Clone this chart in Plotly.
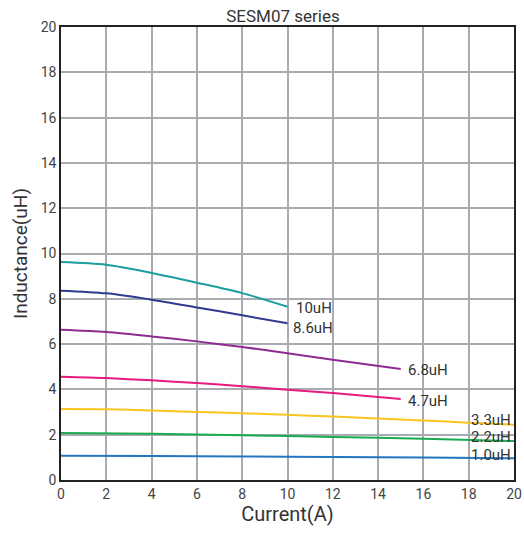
import plotly.graph_objects as go

x_10 = [0, 2, 4, 6, 8, 10]
y_10 = [9.62, 9.5, 9.14, 8.71, 8.25, 7.65]
x_86 = [0, 2, 4, 6, 8, 10]
y_86 = [8.36, 8.24, 7.96, 7.62, 7.27, 6.92]
x_68 = [0, 2, 4, 6, 8, 10, 12, 15]
y_68 = [6.63, 6.53, 6.34, 6.12, 5.87, 5.6, 5.31, 4.9]
x_47 = [0, 2, 4, 6, 8, 10, 12, 15]
y_47 = [4.56, 4.5, 4.4, 4.28, 4.14, 3.99, 3.84, 3.58]
x_33 = [0, 2, 4, 6, 8, 10, 12, 14, 16, 18, 20]
y_33 = [3.13, 3.12, 3.07, 3.0, 2.95, 2.88, 2.8, 2.72, 2.63, 2.53, 2.44]
x_22 = [0, 4, 8, 12, 16, 20]
y_22 = [2.07, 2.04, 1.98, 1.9, 1.82, 1.72]
x_10u = [0, 4, 8, 12, 16, 20]
y_10u = [1.07, 1.06, 1.04, 1.02, 0.99, 0.96]

series = [
    ("10uH", x_10, y_10, "#1b9e9f"),
    ("8.6uH", x_86, y_86, "#2f3b8d"),
    ("6.8uH", x_68, y_68, "#8e2b92"),
    ("4.7uH", x_47, y_47, "#e8197f"),
    ("3.3uH", x_33, y_33, "#f9c420"),
    ("2.2uH", x_22, y_22, "#1aab4f"),
    ("1.0uH", x_10u, y_10u, "#2476c0"),
]

labels = ["10uH", "8.6uH", "6.8uH", "4.7uH", "3.3uH", "2.2uH", "1.0uH"]
label_x = [10.3, 10.15, 15.23, 15.23, 19.95, 19.95, 19.95]
label_y = [7.6, 6.71, 4.86, 3.49, 2.65, 1.9, 1.1]
label_anchor = ["left", "left", "left", "left", "right", "right", "right"]

FONT = "Roboto, sans-serif"

fig = go.Figure()
for name, xs, ys, c in series:
    fig.add_trace(go.Scatter(x=xs, y=ys, mode="lines", name=name,
                             line=dict(color=c, width=2, shape="spline", smoothing=0.8),
                             showlegend=False))

for t, lx, ly, a in zip(labels, label_x, label_y, label_anchor):
    fig.add_annotation(x=lx, y=ly, text=t, showarrow=False, xanchor=a, yanchor="middle",
                       font=dict(family=FONT, size=15, color="#333333"))

fig.update_layout(
    width=524, height=534,
    margin=dict(l=61, r=10, t=27, b=54),
    paper_bgcolor="white", plot_bgcolor="white",
    font=dict(family=FONT, color="#333333"),
    title=dict(text="SESM07 series", x=0.54, xanchor="center", y=0.97, yanchor="middle",
               font=dict(family=FONT, size=17, color="#333333")),
)
fig.update_xaxes(range=[0, 20], dtick=2, showgrid=True, gridcolor="#a8acb1", gridwidth=1.5,
                 showline=True, linecolor="#222222", linewidth=1.5, mirror=True, automargin=False,
                 zeroline=False, ticks="", tickfont=dict(family=FONT, size=14, color="#444444"),
                 title=dict(text="Current(A)", font=dict(family=FONT, size=20, color="#333333"), standoff=4))
fig.update_yaxes(range=[0, 20], dtick=2, showgrid=True, gridcolor="#a8acb1", gridwidth=1.5,
                 showline=True, linecolor="#222222", linewidth=1.5, mirror=True, automargin=False,
                 zeroline=False, ticks="", tickfont=dict(family=FONT, size=14, color="#444444"),
                 title=dict(text="Inductance(uH)", font=dict(family=FONT, size=19, color="#333333"), standoff=8))

fig.write_html("out.html", config={"displayModeBar": False},
               post_script="document.body.style.margin='0';document.body.style.overflow='hidden';")
